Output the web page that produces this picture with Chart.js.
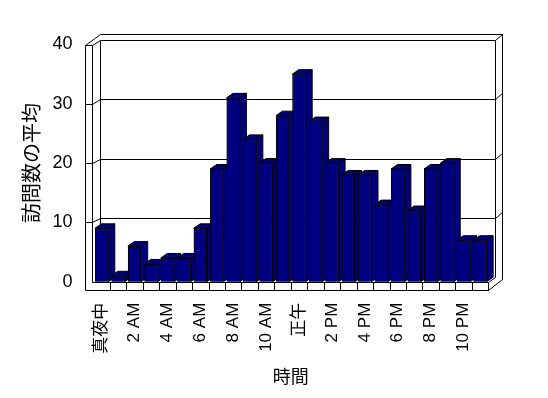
<!DOCTYPE html>
<html>
<head>
<meta charset="utf-8">
<script src="https://cdn.jsdelivr.net/npm/chart.js@4/dist/chart.umd.min.js"></script>
<style>
  body { margin: 0; background: #fff; }
  canvas { display: block; }
</style>
</head>
<body>
<canvas id="visitChart" width="548" height="398"></canvas>
<script>
// hourly average visits
const hours = ['真夜中', '1 AM', '2 AM', '3 AM', '4 AM', '5 AM', '6 AM', '7 AM', '8 AM', '9 AM', '10 AM', '11 AM',
  '正午', '1 PM', '2 PM', '3 PM', '4 PM', '5 PM', '6 PM', '7 PM', '8 PM', '9 PM', '10 PM', '11 PM'];
const visits = [9, 1, 6, 3, 4, 4, 9, 19, 31, 24, 20, 28, 35, 27, 20, 18, 18, 13, 19, 12, 19, 20, 7, 7];
const yTicks = [0, 10, 20, 30, 40];

const fontFamily = "'Liberation Sans', 'Noto Sans CJK JP', sans-serif";
const barColor = '#000080';
const depth = { x: 6.5, y: -4.5 };

const px = (v) => Math.round(v) + 0.5;

const line = (ctx, pts) => {
  ctx.beginPath();
  pts.forEach(([x, y], i) => {
    if (i === 0) ctx.moveTo(px(x), px(y));
    else ctx.lineTo(px(x), px(y));
  });
  ctx.stroke();
};

const poly = (ctx, pts) => {
  ctx.beginPath();
  pts.forEach(([x, y], i) => {
    if (i === 0) ctx.moveTo(x, y);
    else ctx.lineTo(x, y);
  });
  ctx.closePath();
  ctx.fill();
  ctx.stroke();
};

// walls, floor and back gridlines of the 3D box
const boxPlugin = {
  id: 'box3d',
  beforeDatasetsDraw(chart) {
    const { ctx, chartArea } = chart;
    const ys = chart.scales.y;
    const xs = chart.scales.x;
    const L = chartArea.left;
    const R = chartArea.right;
    const B = ys.getPixelForValue(0);
    const T = ys.getPixelForValue(40);
    const cw = xs.getPixelForValue(1) - xs.getPixelForValue(0);

    const fx0 = L - 8.7;
    const fx1 = L - 1.4;
    const bx0 = L + 6.3;
    const bx1 = R + 6.8;
    const ox = R + 13.5;
    const ot = T - 10.5;
    const ff = B + 8.3;

    ctx.save();
    ctx.strokeStyle = '#000';
    ctx.lineWidth = 1;

    // side wall slab
    line(ctx, [[fx0, ff], [fx0, T], [bx0, ot], [ox, ot], [ox, ff - 11]]);
    line(ctx, [[fx0, T], [fx1, T], [bx0, T + depth.y], [bx1, T + depth.y], [ox, ot]]);
    line(ctx, [[fx1, T], [fx1, B]]);
    line(ctx, [[bx0, T + depth.y], [bx0, B + depth.y]]);
    line(ctx, [[bx1, T + depth.y], [bx1, B + depth.y]]);

    // gridlines on the back wall
    yTicks.slice(1, -1).forEach((v) => {
      const y = ys.getPixelForValue(v);
      line(ctx, [[fx0, y], [fx1, y], [bx0, y + depth.y], [bx1, y + depth.y], [ox, y + depth.y - 6]]);
    });

    // floor
    line(ctx, [[fx0, ff], [R, ff], [ox, ff - 11]]);
    line(ctx, [[fx1, B], [R, B], [bx1, B + depth.y]]);
    line(ctx, [[R, B], [R, ff]]);
    for (let i = 1; i < hours.length; i += 1) {
      const x = L + i * cw;
      line(ctx, [[x, B], [x, ff]]);
    }
    ctx.restore();
  },
  afterDatasetsDraw(chart) {
    const { ctx } = chart;
    const meta = chart.getDatasetMeta(0);
    ctx.save();
    meta.data.forEach((bar) => {
      bar.draw(ctx);
      const { x, y, base, width } = bar.getProps(['x', 'y', 'base', 'width'], true);
      const l = x - width / 2;
      const r = x + width / 2;
      ctx.fillStyle = barColor;
      ctx.strokeStyle = '#000';
      ctx.lineWidth = 1;
      poly(ctx, [[r, y], [r + depth.x, y + depth.y], [r + depth.x, base + depth.y], [r, base]]);
      poly(ctx, [[l, y], [l + depth.x, y + depth.y], [r + depth.x, y + depth.y], [r, y]]);
    });
    ctx.restore();
  },
};

const ctx = document.getElementById('visitChart').getContext('2d');
const chart = new Chart(ctx, {
  type: 'bar',
  data: {
    labels: hours,
    datasets: [{
      data: visits,
      backgroundColor: barColor,
      borderColor: '#000',
      borderWidth: 1,
      barPercentage: 0.81,
      categoryPercentage: 1,
    }],
  },
  options: {
    responsive: false,
    animation: false,
    devicePixelRatio: 1,
    layout: {
      padding: { left: 0, right: 59.8, top: 44.5, bottom: 0 },
    },
    plugins: {
      legend: { display: false },
      tooltip: { enabled: false },
    },
    scales: {
      x: {
        afterFit: (scale) => { scale.height = 116.3; },
        grid: { display: false, drawTicks: false },
        border: { display: false },
        ticks: {
          autoSkip: false,
          minRotation: 90,
          maxRotation: 90,
          padding: 21,
          color: '#000',
          font: { family: fontFamily, size: 17 },
          callback: (value, index) => (index % 2 === 0 ? hours[index] : ''),
        },
        title: {
          display: true,
          text: '時間',
          color: '#000',
          font: { family: fontFamily, size: 18 },
          padding: { top: 0, bottom: 9 },
        },
      },
      y: {
        min: 0,
        max: 40,
        afterFit: (scale) => { scale.width = 93.4; },
        grid: { display: false, drawTicks: false },
        border: { display: false },
        ticks: {
          stepSize: 10,
          padding: 21,
          color: '#000',
          font: { family: fontFamily, size: 18 },
        },
        title: {
          display: true,
          text: '訪問数の平均',
          color: '#000',
          font: { family: fontFamily, size: 20 },
          padding: { top: 21, bottom: 0 },
        },
      },
    },
  },
  plugins: [boxPlugin],
});
</script>
</body>
</html>
